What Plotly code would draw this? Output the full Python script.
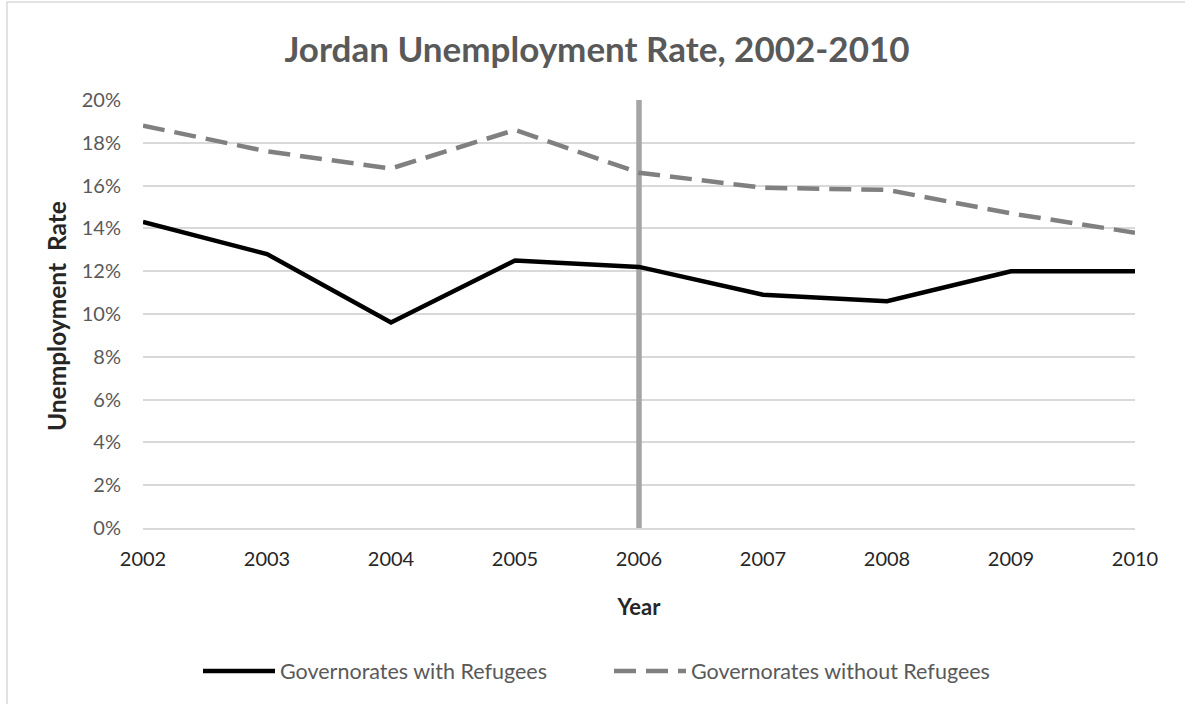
import plotly.graph_objects as go

years = [2002, 2003, 2004, 2005, 2006, 2007, 2008, 2009, 2010]
with_refugees = [0.143, 0.128, 0.096, 0.125, 0.122, 0.109, 0.106, 0.120, 0.120]
without_refugees = [0.188, 0.176, 0.168, 0.186, 0.166, 0.159, 0.158, 0.147, 0.138]
marker_year = 2006
y_ticks = [0, 0.02, 0.04, 0.06, 0.08, 0.10, 0.12, 0.14, 0.16, 0.18, 0.20]

FONT = "Lato"
L, R, T, B = 143, 50, 100, 176
W, H = 1185, 704
PW, PH = W - L - R, H - T - B


def px_x(p):
    return (p - L) / PW


def px_y(p):
    return (H - B - p) / PH


fig = go.Figure()
fig.add_trace(go.Scatter(
    x=[marker_year, marker_year], y=[0, 0.20], mode="lines",
    line=dict(color="#A5A5A5", width=5.5), showlegend=False, hoverinfo="skip"))
fig.add_trace(go.Scatter(
    x=years, y=with_refugees, mode="lines", name="Governorates with Refugees",
    line=dict(color="#000000", width=4.5)))
fig.add_trace(go.Scatter(
    x=years, y=without_refugees, mode="lines", name="Governorates without Refugees",
    line=dict(color="#808080", width=4.5, dash="22px,10px")))

fig.update_layout(
    width=W, height=H,
    margin=dict(l=L, r=R, t=T, b=B),
    paper_bgcolor="white", plot_bgcolor="white",
    font=dict(family=FONT, color="#595959"),
    title=dict(text="<b>Jordan Unemployment Rate, 2002-2010</b>", xref="paper",
               x=px_x(597), xanchor="center", y=1 - 50 / H, yanchor="middle",
               font=dict(size=35, color="#595959", family=FONT)),
    xaxis=dict(range=[2002, 2010], tickvals=years, ticktext=[str(y) for y in years],
               showgrid=False, showline=True, linecolor="#D9D9D9", linewidth=1.5,
               ticks="", tickfont=dict(size=20, color="#262626"), ticklabelstandoff=12,
               title=dict(text="<b>Year</b>", font=dict(size=22, color="#262626"), standoff=31),
               zeroline=False),
    yaxis=dict(range=[0, 0.20], tickvals=y_ticks, tickformat=".0%",
               showgrid=True, gridcolor="#D9D9D9", gridwidth=1.5, zeroline=False,
               showline=False, ticks="", tickfont=dict(size=20, color="#595959"),
               ticklabelstandoff=21),
    annotations=[dict(text="<b>Unemployment  Rate</b>", xref="paper", yref="paper",
                      x=px_x(56), y=px_y(316), xanchor="center",
                      yanchor="middle", textangle=-90, showarrow=False,
                      font=dict(size=24.5, color="#262626", family=FONT))],
    legend=dict(orientation="h", x=px_x(198), xanchor="left", y=px_y(671), yanchor="middle",
                font=dict(size=21.5, color="#595959"), itemwidth=72,
                entrywidth=324, entrywidthmode="pixels"),
    shapes=[dict(type="rect", xref="paper", yref="paper",
                 x0=px_x(7), x1=px_x(1200), y0=px_y(720), y1=px_y(2),
                 line=dict(color="#D9D9D9", width=1.5), fillcolor="rgba(0,0,0,0)", layer="below")],
)

fig.write_html("out.html")
